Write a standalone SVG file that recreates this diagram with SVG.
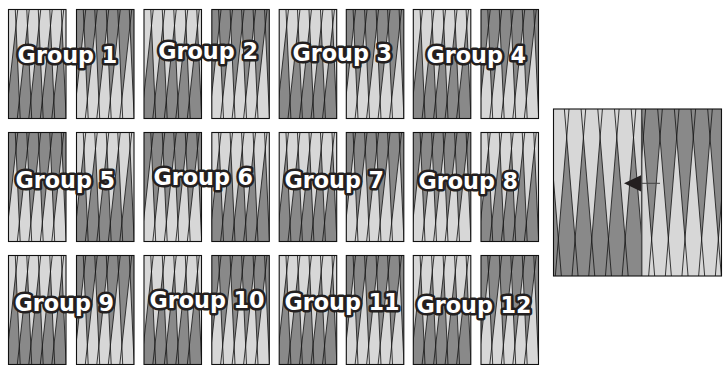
<svg xmlns="http://www.w3.org/2000/svg" xmlns:xlink="http://www.w3.org/1999/xlink" width="723" height="365" viewBox="0 0 723 365">
<style>
.lt{fill:#d7d7d7}
.dk{fill:#898989}
.ln{stroke:#1a1a1a;stroke-width:0.85;fill:none}
.bd{fill:none;stroke:#111;stroke-width:1.1}
.lbl{font-family:"DejaVu Sans","Liberation Sans",sans-serif;font-weight:bold;font-size:22.3px;fill:#fff;stroke:#231f20;stroke-width:5.2;paint-order:stroke;stroke-linejoin:round}
</style>
<defs>
<clipPath id="cp"><rect x="0" y="0" width="57.5" height="109"/></clipPath>
<g id="tri">
<polygon points="-2.7,109 11.7,109 7.5,16"/>
<polygon points="8.8,109 23.2,109 19,16"/>
<polygon points="20.3,109 34.7,109 30.5,16"/>
<polygon points="31.8,109 46.2,109 42,16"/>
<polygon points="43.3,109 57.7,109 53.5,16"/>
</g>
<path id="lines" class="ln" d="M-2.7,109L9.26,0M11.7,109L6.78,0M8.8,109L20.76,0M23.2,109L18.28,0M20.3,109L32.26,0M34.7,109L29.78,0M31.8,109L43.76,0M46.2,109L41.28,0M43.3,109L55.26,0M57.7,109L52.78,0"/>
<g id="pa">
<g clip-path="url(#cp)">
<rect class="lt" width="57.5" height="109"/>
<use xlink:href="#tri" class="dk"/>
<use xlink:href="#lines"/>
</g>
<rect class="bd" width="57.5" height="109"/>
</g>
<g id="pb">
<g clip-path="url(#cp)">
<rect class="dk" width="57.5" height="109"/>
<use xlink:href="#tri" class="lt"/>
<use xlink:href="#lines"/>
</g>
<rect class="bd" width="57.5" height="109"/>
</g>
<clipPath id="cl"><rect x="553.5" y="109" width="88.2" height="167"/></clipPath>
<clipPath id="cr"><rect x="641.7" y="109" width="79.8" height="167"/></clipPath>
</defs>
<rect width="723" height="365" fill="#fff"/>

<g id="g1"><use xlink:href="#pa" x="8.5" y="9.5"/><use xlink:href="#pb" x="76.5" y="9.5"/><text class="lbl" x="17.6" y="62.5">Group 1</text></g>
<g id="g2"><use xlink:href="#pa" x="144" y="9.5"/><use xlink:href="#pb" x="211.8" y="9.5"/><text class="lbl" x="158.2" y="58.5">Group 2</text></g>
<g id="g3"><use xlink:href="#pa" x="279.2" y="9.5"/><use xlink:href="#pb" x="346.3" y="9.5"/><text class="lbl" x="292.4" y="60.5">Group 3</text></g>
<g id="g4"><use xlink:href="#pa" x="413.3" y="9.5"/><use xlink:href="#pb" x="481" y="9.5"/><text class="lbl" x="426.4" y="62.5">Group 4</text></g>

<g id="g5"><use xlink:href="#pb" x="8.5" y="132.5"/><use xlink:href="#pa" x="76.5" y="132.5"/><text class="lbl" x="15.4" y="187.5">Group 5</text></g>
<g id="g6"><use xlink:href="#pb" x="144" y="132.5"/><use xlink:href="#pa" x="211.8" y="132.5"/><text class="lbl" x="153.4" y="184.5">Group 6</text></g>
<g id="g7"><use xlink:href="#pa" x="279.2" y="132.5"/><use xlink:href="#pb" x="346.3" y="132.5"/><text class="lbl" x="284.4" y="187.5">Group 7</text></g>
<g id="g8"><use xlink:href="#pb" x="413.3" y="132.5"/><use xlink:href="#pa" x="481" y="132.5"/><text class="lbl" x="418.4" y="188.5">Group 8</text></g>

<g id="g9"><use xlink:href="#pa" x="8.5" y="255.5"/><use xlink:href="#pb" x="76.5" y="255.5"/><text class="lbl" x="14.4" y="310.5">Group 9</text></g>
<g id="g10"><use xlink:href="#pa" x="144" y="255.5"/><use xlink:href="#pb" x="211.8" y="255.5"/><text class="lbl" x="149.4" y="307.5">Group 10</text></g>
<g id="g11"><use xlink:href="#pa" x="279.2" y="255.5"/><use xlink:href="#pb" x="346.3" y="255.5"/><text class="lbl" x="284.4" y="309.5">Group 11</text></g>
<g id="g12"><use xlink:href="#pa" x="413.3" y="255.5"/><use xlink:href="#pb" x="481" y="255.5"/><text class="lbl" x="416.4" y="312.5">Group 12</text></g>

<g id="detail">
<g clip-path="url(#cl)">
<rect class="lt" x="553.5" y="109" width="88.2" height="167"/>
<g class="dk">
<polygon points="538.64,276 561.36,276 550,137.4"/>
<polygon points="555.34,276 578.06,276 566.7,137.4"/>
<polygon points="572.04,276 594.76,276 583.4,137.4"/>
<polygon points="588.74,276 611.46,276 600.1,137.4"/>
<polygon points="605.44,276 628.16,276 616.8,137.4"/>
<polygon points="622.14,276 644.86,276 633.5,137.4"/>
</g>
<path class="ln" d="M561.36,276L547.67,109M555.34,276L569.03,109M578.06,276L564.37,109M572.04,276L585.73,109M594.76,276L581.07,109M588.74,276L602.43,109M611.46,276L597.77,109M605.44,276L619.13,109M628.16,276L614.47,109M622.14,276L635.83,109M644.86,276L631.17,109"/>
</g>
<g clip-path="url(#cr)">
<rect class="dk" x="641.7" y="109" width="79.8" height="167"/>
<g class="lt">
<polygon points="631.94,276 654.66,276 643.3,137.4"/>
<polygon points="648.64,276 671.36,276 660,137.4"/>
<polygon points="665.34,276 688.06,276 676.7,137.4"/>
<polygon points="681.94,276 704.66,276 693.3,137.4"/>
<polygon points="698.64,276 721.36,276 710,137.4"/>
<polygon points="715.34,276 738.06,276 726.7,137.4"/>
</g>
<path class="ln" d="M631.94,276L645.63,109M654.66,276L640.97,109M648.64,276L662.33,109M671.36,276L657.67,109M665.34,276L679.03,109M688.06,276L674.37,109M681.94,276L695.63,109M704.66,276L690.97,109M698.64,276L712.33,109M721.36,276L707.67,109M715.34,276L729.03,109"/>
</g>
<line x1="641.7" y1="109" x2="641.7" y2="276" stroke="#4a4a4a" stroke-width="1.5"/>
<rect class="bd" x="553.5" y="109" width="168" height="167"/>
</g>

<g id="connectors">
<line x1="641" y1="183.3" x2="660" y2="183.3" stroke="#444" stroke-width="1"/>
<polygon points="624,183.3 641,175.3 641,191.5" fill="#231f20"/>
</g>
</svg>
